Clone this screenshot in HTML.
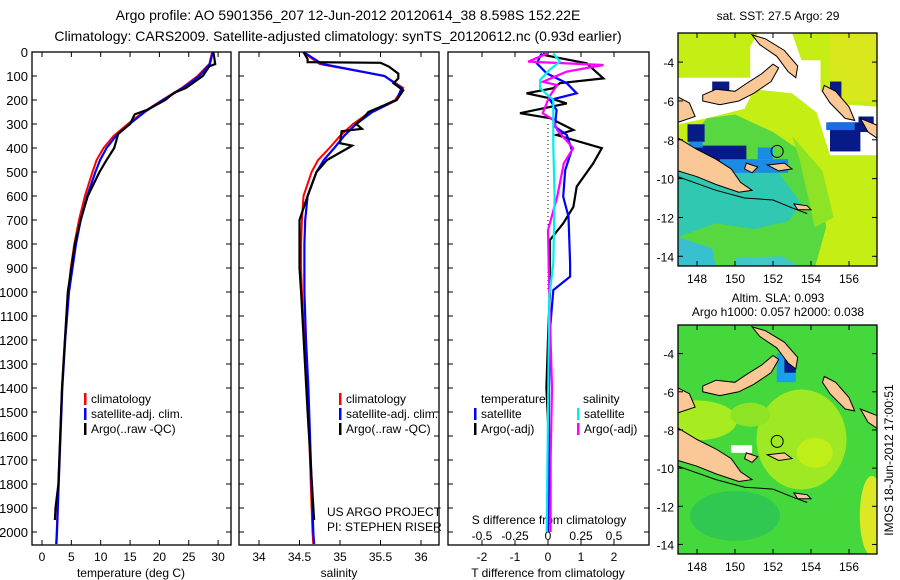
<!DOCTYPE html>
<html><head><meta charset="utf-8">
<style>
html,body{margin:0;padding:0;background:#fff;}
svg{display:block;font-family:"Liberation Sans",sans-serif;}
text{fill:#000;}
</style></head>
<body>
<svg id="fig" width="900" height="580" viewBox="0 0 900 580" xmlns="http://www.w3.org/2000/svg">
<text x="348" y="20" font-size="14" text-anchor="middle">Argo profile: AO 5901356_207 12-Jun-2012 20120614_38 8.598S 152.22E</text>
<text x="338" y="41" font-size="14" text-anchor="middle">Climatology: CARS2009. Satellite-adjusted climatology: synTS_20120612.nc (0.93d earlier)</text>
<g id="plots"></g>
<g id="maps"></g>
</svg>
<script>
// ---------- data ----------
const depthTicks = [0,100,200,300,400,500,600,700,800,900,1000,1100,1200,1300,1400,1500,1600,1700,1800,1900,2000];
const tempTicks = [0,5,10,15,20,25,30];
const salTicks = [34,34.5,35,35.5,36];
const salTickLabels = ["34","34.5","35","35.5","36"];
const tdiffTicks = [-2,-1,0,1,2];
const sdiffTicks = [-0.5,-0.25,0,0.25,0.5];

const climDepth = [0,50,100,150,200,250,300,350,400,450,500,600,700,800,900,1000,1200,1400,1600,1800,2000,2050];
const climTemp  = [29.0,28.5,26.5,23.8,20.5,17.3,14.6,12.2,10.5,9.3,8.6,7.3,6.3,5.5,4.9,4.5,3.9,3.4,3.1,2.8,2.5,2.4];
const satTemp   = [29.1,28.6,26.8,24.0,20.6,17.5,14.9,12.6,11.0,9.9,9.1,7.7,6.6,5.8,5.2,4.6,3.95,3.45,3.15,2.85,2.55,2.45];
const argoTDepth = [0,50,60,100,150,170,200,240,260,300,330,340,400,450,500,600,700,800,900,1000,1200,1400,1600,1800,1900,1950];
const argoTemp   = [29.2,29.5,28.5,27.4,24.5,22.5,21.0,18.0,15.8,15.0,13.5,13.0,12.3,11.0,9.8,7.8,6.6,5.6,5.0,4.4,3.9,3.4,3.1,2.8,2.3,2.2];

const climSal = [34.54,34.75,35.55,35.78,35.68,35.37,35.16,35.0,34.87,34.73,34.65,34.55,34.53,34.52,34.52,34.53,34.56,34.6,34.62,34.64,34.66,34.67];
const satSal  = [34.55,34.78,35.55,35.76,35.7,35.4,35.2,35.05,34.93,34.8,34.71,34.6,34.57,34.56,34.56,34.56,34.58,34.61,34.63,34.65,34.67,34.68];
const argoSDepth = [0,30,42,45,60,90,110,130,160,200,250,270,300,320,330,380,390,400,450,500,600,700,800,900,1000,1500,1950];
const argoSal    = [34.55,34.6,34.6,35.5,35.6,35.72,35.72,35.66,35.78,35.7,35.35,35.3,35.2,35.27,35.02,35.0,35.15,35.1,34.84,34.71,34.6,34.5,34.5,34.5,34.52,34.6,34.68];

const dTDepth = [5,12,47,110,130,151,172,193,214,255,276,325,346,401,464,561,645,714,783,992,1158,1400,1600,1800,2000];
const argoTdiff = [-0.1,-0.14,1.17,1.68,0.36,0.16,-0.65,0.06,0.57,-0.85,0.06,0.77,0.26,1.63,1.37,0.87,0.77,0.46,0.06,0.06,0.01,-0.05,0.02,0.0,0.0];
const sDepthA = [6,47,89,130,172,200,242,311,346,408,492,603,686,881,936,992,1158,1400,1700,2000];
const satTdiff = [-0.19,-0.34,-0.04,0.57,0.87,0.06,0.26,0.21,0.57,0.72,0.52,0.46,0.62,0.67,0.67,0.16,0.06,0.03,0.02,0.0];
const dSDepth = [5,40,54,82,124,138,186,255,283,325,401,464,603,742,1019,1400,1700,2000];
const argoSdiff = [0.0,-0.15,0.42,0.14,-0.04,0.07,0.01,-0.04,0.04,0.07,0.19,0.12,0.07,0.0,0.01,0.03,0.02,0.02];
const cDepth = [6,40,75,117,151,200,394,603,881,1019,1500,2000];
const satSdiff = [0.04,0.09,0.01,-0.06,-0.06,0.04,0.04,0.05,0.04,0.01,0.0,-0.01];

// ---------- helpers ----------
const NS="http://www.w3.org/2000/svg";
const plots=document.getElementById('plots');
function mk(tag,attrs,parent){const e=document.createElementNS(NS,tag);for(const k in attrs)e.setAttribute(k,attrs[k]);(parent||plots).appendChild(e);return e;}
const Y0=52, Y1=545;
function yD(d){return Y0+0.24*d;}
function line(x1,y1,x2,y2,p){return mk('line',{x1,y1,x2,y2,stroke:'#000','stroke-width':1},p);}
function txt(x,y,s,anchor,size,p){const t=mk('text',{x,y,'font-size':size||12,'text-anchor':anchor||'start'},p);t.textContent=s;return t;}
function poly(xs,ys,color,w,name){const pts=xs.map((v,i)=>xs[i].toFixed(1)+','+ys[i].toFixed(1)).join(' ');
  const e=mk('polyline',{points:pts,fill:'none',stroke:color,'stroke-width':w,'stroke-linejoin':'miter'});
  
  
  return e;}

function panel(L,R,name){
  const r=mk('rect',{x:L,y:Y0,width:R-L,height:Y1-Y0,fill:'none',stroke:'#000','stroke-width':1.3});
  
  
  depthTicks.forEach(d=>{line(L,yD(d),L+5,yD(d));line(R-5,yD(d),R,yD(d));});
}
// Panel 1: temperature
const P1={L:32,R:231}; function xT(t){return 42+5.87*t;}
panel(P1.L,P1.R,'temperature-panel');
depthTicks.forEach(d=>{const t=txt(28,yD(d)+5,String(d),'end',13);});
tempTicks.forEach(v=>{line(xT(v),Y1,xT(v),Y1-5);line(xT(v),Y0,xT(v),Y0+5);txt(xT(v),561,String(v),'middle',12);});
{const t=txt(131,577,'temperature (deg C)','middle',12);}
poly(climTemp.map(xT),climDepth.map(yD),'#f00',2,'climatology-temperature-line');
poly(satTemp.map(xT),climDepth.map(yD),'#00f',2.2,'satellite-temperature-line');
poly(argoTemp.map(xT),argoTDepth.map(yD),'#000',2.2,'argo-temperature-line');
function legend(x,y,color,label,name){const r=mk('rect',{x:x,y:y-10,width:2.5,height:12,fill:color});
  
  
  txt(x+7,y,label,'start',12);}
legend(84,403,'#f00','climatology','legend-climatology');
legend(84,418,'#00f','satellite-adj. clim.','legend-satellite');
legend(84,433,'#000','Argo(..raw -QC)','legend-argo');

// Panel 2: salinity
const P2={L:239,R:439}; function xS(s){return 259+81*(s-34);}
panel(P2.L,P2.R,'salinity-panel');
salTicks.forEach((v,i)=>{line(xS(v),Y1,xS(v),Y1-5);line(xS(v),Y0,xS(v),Y0+5);txt(xS(v),561,salTickLabels[i],'middle',12);});
{const t=txt(339,577,'salinity','middle',12);}
poly(climSal.map(xS),climDepth.map(yD),'#f00',2,'climatology-salinity-line');
poly(satSal.map(xS),climDepth.map(yD),'#00f',2.2,'satellite-salinity-line');
poly(argoSal.map(xS),argoSDepth.map(yD),'#000',2.2,'argo-salinity-line');
legend(339,403,'#f00','climatology','legend-climatology-sal');
legend(339,418,'#00f','satellite-adj. clim.','legend-satellite-sal');
legend(339,433,'#000','Argo(..raw -QC)','legend-argo-sal');
txt(327,516,'US ARGO PROJECT','start',12);
txt(327,531,'PI: STEPHEN RISER','start',12);

// Panel 3: differences
const P3={L:448,R:649}; function xTd(d){return 548+33*d;} function xSd(s){return 548+132*s;}
panel(P3.L,P3.R,'difference-panel');
tdiffTicks.forEach(v=>{line(xTd(v),Y1,xTd(v),Y1-5);line(xTd(v),Y0,xTd(v),Y0+5);txt(xTd(v),561,String(v),'middle',12);});
sdiffTicks.forEach(v=>{txt(xSd(v),540,String(v),'middle',12);});
txt(549,524,'S difference from climatology','middle',12);
{const t=txt(548,577,'T difference from climatology','middle',12);}
mk('line',{x1:548,y1:yD(300),x2:548,y2:yD(1000),stroke:'#000','stroke-width':1,'stroke-dasharray':'1,3'});
poly(argoTdiff.map(xTd),dTDepth.map(yD),'#000',2.2,'argo-tdiff-line');
poly(satTdiff.map(xTd),sDepthA.map(yD),'#00f',2.2,'satellite-tdiff-line');
poly(argoSdiff.map(xSd),dSDepth.map(yD),'#f0f',2.2,'argo-sdiff-line');
poly(satSdiff.map(xSd),cDepth.map(yD),'#0ee',2.2,'satellite-sdiff-line');
txt(481,403,'temperature','start',12);
txt(583,403,'salinity','start',12);
legend(474,418,'#00f','satellite','legend-tdiff-satellite');
legend(474,433,'#000','Argo(-adj)','legend-tdiff-argo');
legend(577,418,'#0ee','satellite','legend-sdiff-satellite');
legend(577,433,'#f0f','Argo(-adj)','legend-sdiff-argo');

// ---------- maps ----------
const maps=document.getElementById('maps');
const mapLonTicks=[148,150,152,154,156];
const mapLatTicks=[-4,-6,-8,-10,-12,-14];
function mkm(tag,attrs,p){return mk(tag,attrs,p||maps);}
function drawMap(top,bot,kind,name){
  const L=678,R=877;
  const fx=lon=>L+(lon-147)*19.0;
  const fy=lat=>top+(-2.5-lat)*(bot-top)/12;
  const g=mkm('g',{});
  
  
  const cid='clip'+kind;
  const cp=mkm('clipPath',{id:cid},g); mkm('rect',{x:L,y:top,width:R-L,height:bot-top},cp);
  const inner=mkm('g',{'clip-path':'url(#'+cid+')'},g);
  const P=(arr,fill,stroke)=>mkm('polygon',{points:arr.map(p=>fx(p[0]).toFixed(1)+','+fy(p[1]).toFixed(1)).join(' '),fill,stroke:stroke||'none','stroke-width':1},inner);
  const PL=(arr)=>mkm('polyline',{points:arr.map(p=>fx(p[0]).toFixed(1)+','+fy(p[1]).toFixed(1)).join(' '),fill:'none',stroke:'#000','stroke-width':1},inner);
  const RC=(a,b,c,d,fill)=>mkm('rect',{x:fx(a),y:fy(b),width:fx(c)-fx(a),height:fy(d)-fy(b),fill},inner);
  if(kind==='sst'){
    RC(146,-2,158,-15,'#c4ee14');
    RC(155,-2.5,158,-6,'#d8e81c');
    P([[147,-4.8],[150.8,-4.8],[150.8,-3.2],[151.2,-2.5],[153,-2.5],[153.5,-3.9],[154.5,-3.9],[154.5,-5.5],[156,-6.2],[157.5,-6.3],[157.5,-8.8],[155,-8.8],[154.3,-6.6],[153,-5.6],[151,-5.4],[150.5,-6.4],[148.5,-6.9],[147,-7.2]],'#fff');
    P([[148.5,-6.9],[150,-6.7],[152,-7.6],[153.5,-8.6],[154.5,-10.5],[154.8,-12.5],[154.2,-14.6],[147,-14.6],[147,-8.8]],'#58d840');
    P([[153,-7.8],[154.6,-9.6],[155.2,-12],[154.2,-12.5],[153.4,-9]],'#8ee424');
    P([[147,-9],[149,-8.8],[152,-9.3],[153.5,-11.3],[152.8,-12.2],[151,-12.6],[149,-12.3],[147,-13]],'#30c8b0');
    P([[147,-13],[148.8,-13.6],[149,-14.6],[147,-14.6]],'#38c0d0');
    P([[150,-14.1],[152.5,-14],[153.5,-14.6],[150,-14.6]],'#40c8c8');
    RC(148.8,-5,149.7,-5.8,'#081a88');RC(147.5,-7.2,148.4,-8.1,'#081a88');
    RC(147.8,-8.3,150.6,-9.3,'#081a88');RC(149.2,-9.0,152.8,-9.7,'#1a8ce6');
    RC(151.2,-8.4,152,-9.0,'#1a8ce6');RC(147.6,-8.1,148.3,-8.4,'#1a8ce6');
    RC(155,-5,155.6,-6,'#081a88');RC(155,-7.1,156.6,-8.6,'#081a88');RC(156.5,-6.8,157.3,-7.6,'#081a88');
    RC(154.8,-7.1,156.3,-7.5,'#1a6ce6');
  } else {
    RC(146,-2,158,-15,'#44d83c');
    mkm('ellipse',{cx:fx(148),cy:fy(-7.5),rx:40,ry:20,fill:'#a6ec20'},inner);
    mkm('ellipse',{cx:fx(153.5),cy:fy(-8.5),rx:45,ry:50,fill:'#9ee824'},inner);
    mkm('ellipse',{cx:fx(154.2),cy:fy(-9.2),rx:18,ry:15,fill:'#c0ee18'},inner);
    mkm('ellipse',{cx:fx(157.2),cy:fy(-12.5),rx:12,ry:40,fill:'#dce824'},inner);
    mkm('ellipse',{cx:fx(150.8),cy:fy(-7.2),rx:20,ry:12,fill:'#8ee424'},inner);
    mkm('ellipse',{cx:fx(150),cy:fy(-12.5),rx:45,ry:25,fill:'#30c850'},inner);
    RC(152.2,-4,153.2,-5.5,'#18a0e8');RC(152.6,-4.2,153.2,-5,'#081a88');RC(149.8,-8.8,150.9,-9.2,'#fff');
  }
  // land
  const land='#f9c896';
  P([[147,-5.8],[147.6,-6.1],[147.9,-6.8],[147,-7.1]],land,'#000');
  P([[147,-7.9],[148,-8.5],[149,-9.0],[149.8,-9.5],[150.3,-10.2],[150.9,-10.6],[150.2,-10.7],[149,-10.3],[148,-9.9],[147,-9.6]],land,'#000');
  P([[148.3,-5.7],[149,-5.4],[150,-5.5],[150.6,-5.1],[151.4,-4.6],[152,-4.1],[152.3,-4.3],[151.9,-5.0],[151,-5.6],[150.2,-6.0],[149.2,-6.2],[148.3,-6.0]],land,'#000');
  P([[150.9,-2.6],[151.6,-2.8],[152.6,-3.4],[153.3,-4.2],[153.2,-4.8],[152.8,-4.5],[152.2,-3.7],[151.3,-3.1]],land,'#000');
  P([[154.7,-5.2],[155.3,-5.5],[156,-6.3],[156.3,-7.0],[155.8,-6.9],[155,-6.1],[154.6,-5.5]],land,'#000');
  P([[156.6,-6.9],[157.6,-7.3],[157.6,-8.0],[157,-7.6]],land,'#000');
  P([[150.6,-9.2],[151.2,-9.4],[150.9,-9.7],[150.5,-9.5]],land,'#000');
  P([[151.7,-9.3],[152.6,-9.2],[153,-9.5],[152.3,-9.6]],land,'#000');
  P([[153.1,-11.3],[153.8,-11.4],[154,-11.6],[153.3,-11.6]],land,'#000');
  PL([[147,-9.9],[149,-10.6],[150.5,-11.0],[152,-11.1],[153,-11.5],[153.8,-11.8]]);
  // circle
  mkm('circle',{cx:fx(152.22),cy:fy(-8.598),r:6,fill:'none',stroke:'#000','stroke-width':1},inner);
  // frame & ticks
  mkm('rect',{x:L,y:top,width:R-L,height:bot-top,fill:'none',stroke:'#000','stroke-width':1.3},g);
  mapLonTicks.forEach(v=>{const x=fx(v);line(x,bot,x,bot-5,g);line(x,top,x,top+5,g);txt(x,bot+17,String(v),'middle',12,g);});
  mapLatTicks.forEach(v=>{const y=fy(v);line(L,y,L+5,y,g);line(R-5,y,R,y,g);txt(L-4,y+5,String(v),'end',12,g);});
}
drawMap(33,266,'sst','sst-map');
drawMap(325,554,'sla','sla-map');
{const t=txt(778,20,'sat. SST: 27.5 Argo: 29','middle',12,maps);}
{const t=txt(778,302,'Altim. SLA: 0.093','middle',12,maps);}
txt(778,316,'Argo h1000: 0.057 h2000: 0.038','middle',12,maps);
{const t=txt(0,0,'IMOS 18-Jun-2012 17:00:51','middle',12,maps);t.setAttribute('transform','translate(893,460) rotate(-90)');}
</script>
</body></html>
